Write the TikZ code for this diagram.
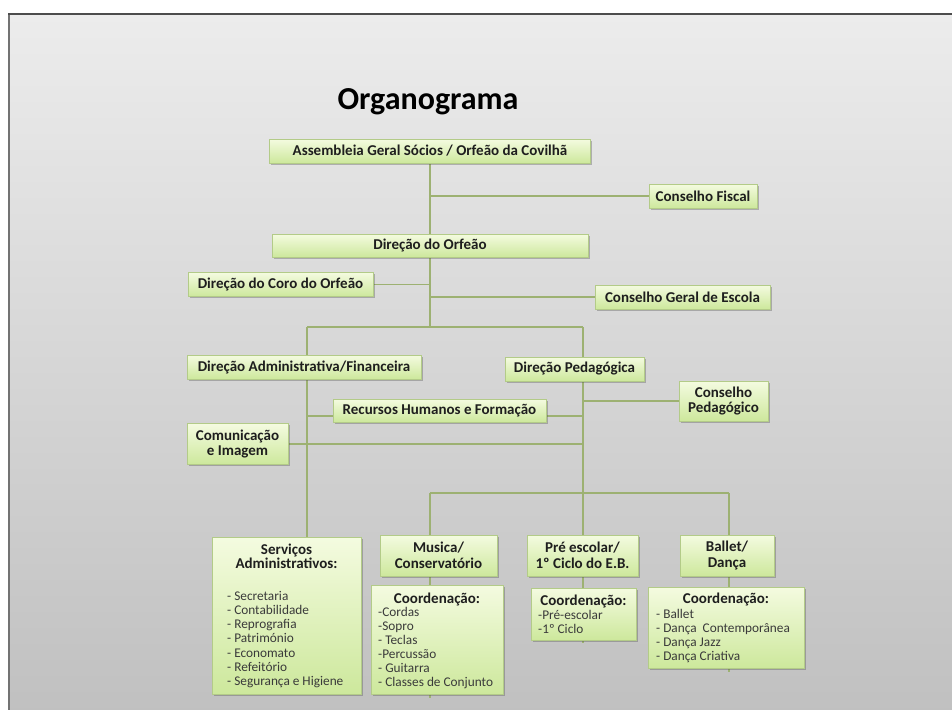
\documentclass[tikz,border=0pt]{standalone}
\usepackage{fontspec}
\setmainfont{Carlito}
\usetikzlibrary{shadows,calc}
\pgfdeclarelayer{bgzero}
\pgfdeclarelayer{bglines}
\pgfsetlayers{bgzero,bglines,main}
\definecolor{lnc}{HTML}{9DB172}
\definecolor{boxedge}{HTML}{B3CB88}
\definecolor{boxtop}{HTML}{F4FBE0}
\definecolor{boxbot}{HTML}{CDE89C}
\definecolor{txt}{HTML}{1E1E1E}
\definecolor{listtxt}{HTML}{3A3A3A}
\definecolor{bgtop}{HTML}{ECECEC}
\definecolor{bgbot}{HTML}{C0C0C0}
\newcommand\ttlfont{\fontsize{15}{15.5}\selectfont\bfseries}
\newcommand\srvfont{\fontsize{15}{14}\selectfont\bfseries}
\newcommand\crdfont{\fontsize{15}{15}\selectfont\bfseries}
\newcommand\lstfont{\fontsize{13.3}{14.1}\selectfont}
\tikzset{
  obox/.style={draw=boxedge, line width=0.8pt, top color=boxtop, bottom color=boxbot,
    inner sep=0pt, align=center, font=\ttlfont, text=txt,
    drop shadow={shadow xshift=1.6pt, shadow yshift=-1.8pt, opacity=0.35, fill=black!70}},
  wh/.style n args={2}{minimum width=#1pt, minimum height=#2pt},
  link/.style={draw=lnc, line width=1.4pt},
  ttl/.style={inner sep=0pt, align=center, font=\crdfont, text=txt},
  lst/.style={inner sep=0pt, align=left, anchor=west, font=\lstfont, text=listtxt},
}
\begin{document}
\begin{tikzpicture}[x=1pt,y=-1pt]
\useasboundingbox (0,0) rectangle (952,709);
\begin{pgfonlayer}{bgzero}
  \fill[white] (0,0) rectangle (952,709);
  \shade[top color=bgtop, bottom color=bgbot] (9,14) rectangle (960,715);
  \draw[line width=2pt, draw=black!55] (9,715) -- (9,14);
  \draw[line width=1.5pt, draw=black!70] (8,14) -- (960,14);
\end{pgfonlayer}

\node[inner sep=0pt, anchor=base, font=\fontsize{32}{34}\selectfont\bfseries, text=black] (title) at (428,109) {Organograma};

\node[obox, wh={321}{24}] (asm) at (430,151) {Assembleia Geral Sócios / Orfeão da Covilhã};
\node[obox, wh={108}{24}] (fisc) at (703,196) {Conselho Fiscal};
\node[obox, wh={316}{23}] (dorf) at (430,245.5) {Direção do Orfeão};
\node[obox, wh={185}{24}] (coro) at (280.5,284.5) {Direção do Coro do Orfeão};
\node[obox, wh={175}{24}] (cge) at (682.5,297) {Conselho Geral de Escola};
\node[obox, wh={234}{24}] (dadm) at (304,367) {Direção Administrativa/Financeira};
\node[obox, wh={139}{24}] (dped) at (574.5,369) {Direção Pedagógica};
\node[obox, wh={89}{40}] (cped) at (723.5,401) {Conselho\\Pedagógico};
\node[obox, wh={213}{23}] (rh) at (439.5,410.5) {Recursos Humanos e Formação};
\node[obox, wh={101}{41}] (com) at (237.5,444) {Comunicação\\e Imagem};

\node[obox, wh={149}{157}] (serv) at (286.5,615.5) {};
\node[obox, wh={117}{41}] (mus) at (438.5,555.5) {Musica/\\Conservatório};
\node[obox, wh={132}{109}] (musc) at (437,639.5) {};
\node[obox, wh={111}{41}] (pre) at (582.5,555.5) {Pré escolar/\\1º Ciclo do E.B.};
\node[obox, wh={105}{52}] (prec) at (583.5,614) {};
\node[obox, wh={94}{41}] (bal) at (727,555.5) {Ballet/\\Dança};
\node[obox, wh={156}{81}] (balc) at (726,627.5) {};

% texts inside the list boxes
\node[ttl, font=\srvfont] (servt) at (286.5,556.5) {Serviços\\Administrativos:};
\node[lst] (servl) at (227,639.5) {- Secretaria\\- Contabilidade\\- Reprografia\\- Património\\- Economato\\- Refeitório\\- Segurança e Higiene};
\node[ttl] (musct) at (437,599) {Coordenação:};
\node[lst] (muscl) at (378,648) {-Cordas\\-Sopro\\- Teclas\\-Percussão\\- Guitarra\\- Classes de Conjunto};
\node[ttl] (prect) at (583.5,601) {Coordenação:};
\node[lst] (precl) at (538,621.5) {-Pré-escolar\\-1º Ciclo};
\node[ttl] (balct) at (726,599.5) {Coordenação:};
\node[lst] (balcl) at (656,636) {- Ballet\\- Dança\ \ Contemporânea\\- Dança Jazz\\- Dança Criativa};

% junction points
\coordinate (jT) at (430,327);
\coordinate (jL) at (307,327);
\coordinate (jR) at (583,327);
\coordinate (rhy) at (0,416);
\coordinate (bL) at (430,493);
\coordinate (bR) at (729,493);

\begin{pgfonlayer}{bglines}
  \draw[link] (asm.center) -- (dorf.center) -- (jT);
  \draw[link] (fisc.center) -- (fisc.center -| asm.center);
  \draw[link] (coro.center) -- (coro.center -| dorf.center);
  \draw[link] (cge.center) -- (cge.center -| dorf.center);
  \draw[link] (jL) -- (jR);
  \draw[link] (jL) -- (jL |- serv.north);
  \draw[link] (jR) -- ($(jR |- prec.south)+(0,3)$);
  \draw[link] (cped.center) -- (cped.center -| jR);
  \draw[link] (jL |- rhy) -- (jR |- rhy);
  \draw[link] (com.center) -- (com.center -| jR);
  \draw[link] (bL) -- (bR);
  \draw[link] (bL) -- ($(bL |- musc.south)+(0,4)$);
  \draw[link] (bR) -- ($(bR |- balc.south)+(0,4)$);
\end{pgfonlayer}
\end{tikzpicture}
\end{document}
